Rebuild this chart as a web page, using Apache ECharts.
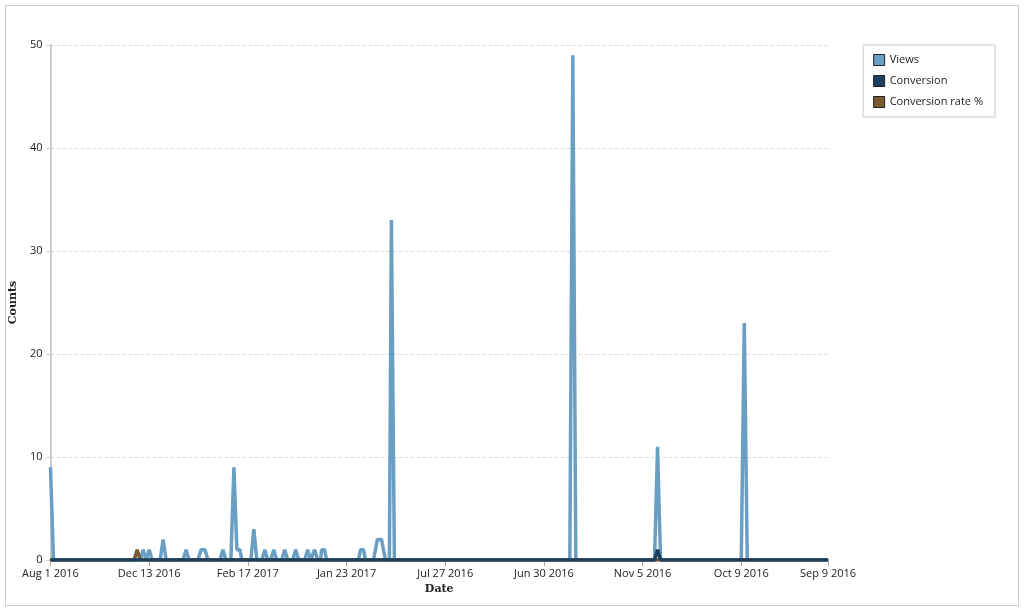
<!DOCTYPE html>
<html lang="en">
<head>
<meta charset="UTF-8" />
<title>Counts</title>
<style>
  html, body { margin: 0; padding: 0; background: #fff; }
  #frame { position: absolute; left: 5px; top: 5px; width: 1012px; height: 599px; border: 1px solid #ccc; }
  #chart { width: 1024px; height: 611px; position: absolute; left: 0; top: 0; }
</style>
</head>
<body>
<div id="frame"></div>
<div id="chart"></div>
<script src="https://cdn.jsdelivr.net/npm/echarts@6/dist/echarts.min.js"></script>
<script>
// tick labels as printed on the x axis (positions 0, 99, 198 ... and end 780)
const tickLabels = ["Aug 1 2016", "Dec 13 2016", "Feb 17 2017", "Jan 23 2017", "Jul 27 2016", "Jun 30 2016", "Nov 5 2016", "Oct 9 2016"];
const endLabel = "Sep 9 2016";

const views = [
  [0, 9], [3, 0], [90, 0], [93, 1], [96, 0], [99, 1], [102, 0],
  [110, 0], [113, 2], [116, 0], [133, 0], [136, 1], [139, 0],
  [148, 0], [151, 1], [155, 1], [158, 0], [170, 0], [173, 1], [176, 0],
  [181, 0], [184, 9], [187, 1], [190, 1], [192, 0], [201, 0], [204, 3], [207, 0],
  [212, 0], [215, 1], [218, 0], [221, 0], [224, 1], [227, 0],
  [232, 0], [235, 1], [238, 0], [243, 0], [246, 1], [249, 0],
  [255, 0], [258, 1], [261, 0], [262, 0], [265, 1], [268, 0],
  [271, 0], [272, 1], [275, 1], [277, 0], [309, 0], [311, 1], [314, 1], [316, 0],
  [324, 0], [328, 2], [332, 2], [336, 0], [340, 0], [342, 33], [345, 0],
  [521, 0], [524, 49], [527, 0], [606, 0], [609, 11], [612, 0],
  [693, 0], [696, 23], [699, 0], [780, 0]
];
const conversion = [[0, 0], [606, 0], [609, 1], [612, 0], [780, 0]];
const conversionRate = [[0, 0], [84, 0], [87, 1], [90, 0], [780, 0]];

const chart = echarts.init(document.getElementById("chart"));
const lineSeries = function (name, data, color, z) {
  return {
    name: name, type: "line", data: data, symbol: "none", z: z,
    lineStyle: { width: 3.5, color: color }, itemStyle: { color: color },
    animation: false
  };
};
chart.setOption({
  legend: {
    right: 29, top: 45, orient: "vertical", itemGap: 9,
    padding: [9, 12, 9, 10], borderColor: "#ccc", borderWidth: 1,
    icon: "rect", itemWidth: 11, itemHeight: 11,
    itemStyle: { borderColor: "#222", borderWidth: 1 },
    textStyle: { fontSize: 11, color: "#222", fontFamily: "Open Sans", width: 105 },
    data: ["Views", "Conversion", "Conversion rate %"]
  },
  grid: { left: 47, right: 196, top: 45, bottom: 51 },
  xAxis: {
    type: "value", min: 0, max: 780, interval: 99,
    name: "Date", nameLocation: "middle", nameGap: 24,
    nameTextStyle: { fontFamily: "DejaVu Serif", fontWeight: "bold", fontSize: 11, color: "#222" },
    axisLine: { lineStyle: { color: "#666", width: 2 } },
    axisTick: { show: true, lineStyle: { color: "#aaa" }, length: 6 },
    splitLine: { show: false },
    axisLabel: {
      fontSize: 11, color: "#222", fontFamily: "Open Sans", showMaxLabel: true,
      formatter: function (v) {
        if (v >= 780) return endLabel;
        return tickLabels[Math.round(v / 99)] || "";
      }
    }
  },
  yAxis: {
    type: "value", min: 0, max: 50, interval: 10,
    name: "Counts", nameLocation: "middle", nameGap: 28,
    nameTextStyle: { fontFamily: "DejaVu Serif", fontWeight: "bold", fontSize: 11, color: "#222" },
    axisLine: { show: true, lineStyle: { color: "#ccc", width: 2 } },
    axisTick: { show: true, length: 4, lineStyle: { color: "#ccc" } },
    splitLine: { lineStyle: { type: "dashed", color: "#ddd" } },
    axisLabel: { fontSize: 11, color: "#222", fontFamily: "Open Sans" }
  },
  series: [
    lineSeries("Conversion rate %", conversionRate, "#7a5a30", 2),
    lineSeries("Conversion", conversion, "#1b3f5e", 3),
    lineSeries("Views", views, "#6a9fc4", 1)
  ]
});
</script>
</body>
</html>
